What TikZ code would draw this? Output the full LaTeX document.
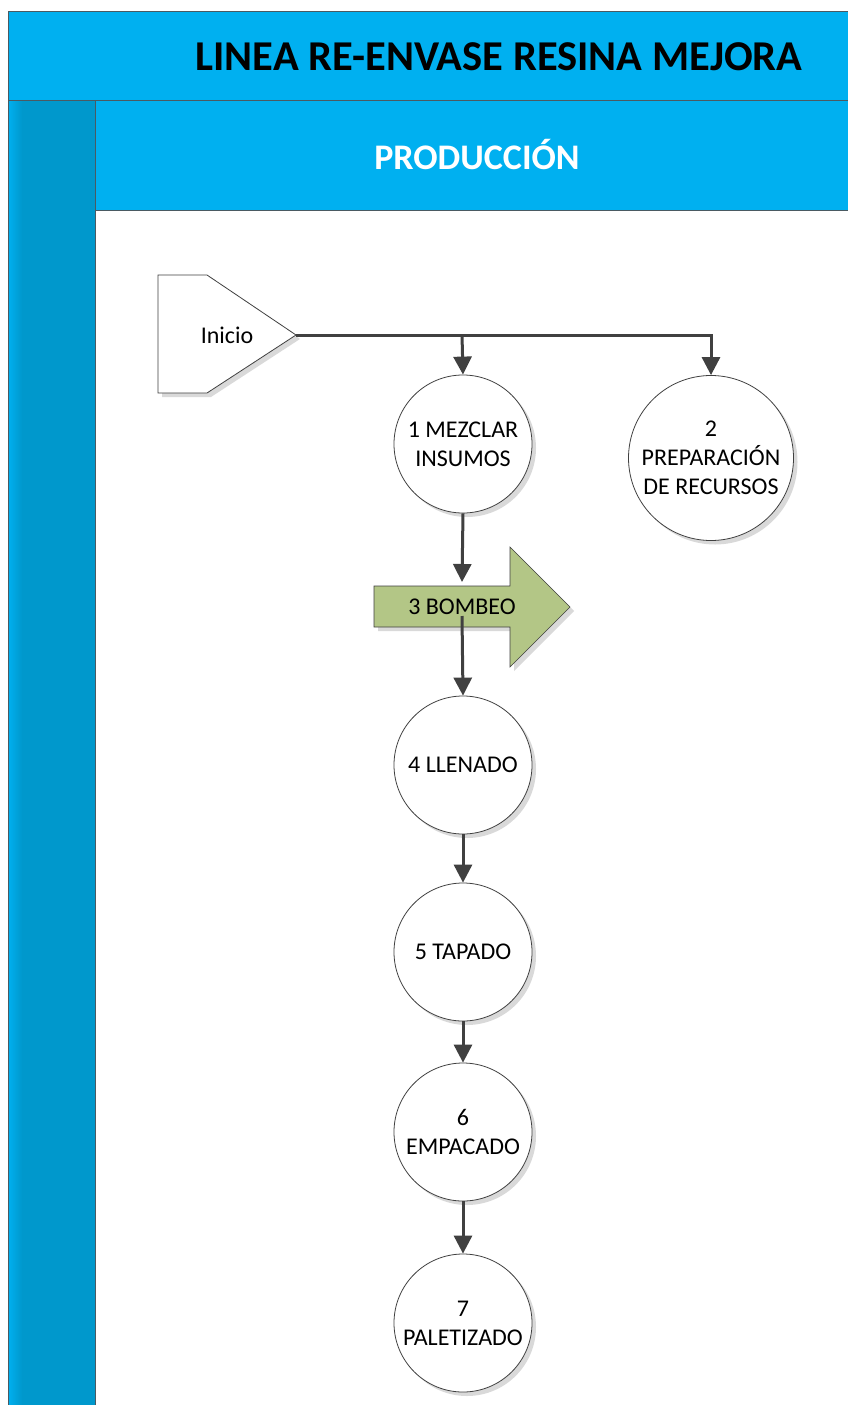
\documentclass[tikz,border=0pt]{standalone}
\usepackage{fontspec}
\setmainfont{Carlito}
\usetikzlibrary{shadows,arrows.meta}
\definecolor{bandblue}{HTML}{00B0F0}
\definecolor{laneblue}{HTML}{0098CC}
\definecolor{framegray}{HTML}{4A5A62}
\definecolor{conngray}{HTML}{404040}
\definecolor{arrowgreen}{HTML}{B3C686}
\tikzset{
  proc/.style={circle, draw=conngray, line width=0.8pt, fill=white, inner sep=0pt,
    minimum size=138pt, align=center, font=\fontsize{24}{29}\selectfont,
    drop shadow={shadow xshift=4pt, shadow yshift=-4pt, fill=black, opacity=0.15}},
  conn/.style={draw=conngray, line width=3pt, -{Triangle[length=18pt,width=18pt]}},
  plainline/.style={draw=conngray, line width=3pt},
  shapeshadow/.style={drop shadow={shadow xshift=4pt, shadow yshift=-4pt, fill=black, opacity=0.15}}
}
\begin{document}
\begin{tikzpicture}[x=1pt,y=-1pt]
\useasboundingbox (0,0) rectangle (848,1405);
\fill[white] (0,0) rectangle (848,1405);
% bands
\fill[bandblue] (8,12) rectangle (849,100);
\fill[laneblue] (8,100) rectangle (95,1406);
\shade[left color=bandblue, right color=laneblue] (8,100) rectangle (22,1406);
\fill[bandblue] (95,100) rectangle (849,210);
\draw[framegray, line width=1pt] (8,1406) -- (8,12) -- (849,12);
\draw[framegray, line width=1pt] (8,100) -- (849,100);
\draw[framegray, line width=1pt] (95,1406) -- (95,210) -- (849,210);
\draw[framegray, line width=0.8pt] (95,100) -- (95,210);
\node[font=\fontsize{42.5}{50}\bfseries\selectfont, text=black] (title) at (499,57) {LINEA RE-ENVASE RESINA MEJORA};
\node[font=\fontsize{36}{42}\bfseries\selectfont, text=white] (lane) at (477,155) {PRODUCCIÓN};
% Inicio off-page connector
\path[draw=conngray, line width=0.8pt, fill=white, shapeshadow]
  (158,275) -- (207,275) -- (296,335) -- (207,393) -- (158,393) -- cycle;
\node[font=\fontsize{24}{29}\selectfont] (inicio) at (227,335) {Inicio};
\coordinate (tip) at (296,335);
\coordinate (br) at (462,335);
% block arrow
\path[draw=conngray, line width=0.6pt, fill=arrowgreen, shapeshadow]
  (374,586) -- (510,586) -- (510,547) -- (570,607) -- (510,667) -- (510,627) -- (374,627) -- cycle;
\node[font=\fontsize{24}{29}\selectfont] (bombeo) at (462,607) {3 BOMBEO};
\coordinate (bin) at (462,582);
\coordinate (bout) at (462,616);
% process circles
\node[proc] (c1) at (463,444) {1 MEZCLAR\\INSUMOS};
\node[proc, minimum size=165pt] (c2) at (711,458) {2\\PREPARACIÓN\\DE RECURSOS};
\node[proc] (c4) at (463,765) {4 LLENADO};
\node[proc] (c5) at (463,952) {5 TAPADO};
\node[proc] (c6) at (463,1132) {6\\EMPACADO};
\node[proc] (c7) at (463,1323) {7\\PALETIZADO};
% connectors
\draw[plainline] (tip) -- (br);
\draw[conn] (tip) -| (c2.north);
\draw[conn] (br) -- (c1.north);
\draw[conn] (c1.south) -- (bin);
\draw[conn] (bout) -- (c4.north);
\draw[conn] (c4) -- (c5);
\draw[conn] (c5) -- (c6);
\draw[conn] (c6) -- (c7);
\end{tikzpicture}
\end{document}
